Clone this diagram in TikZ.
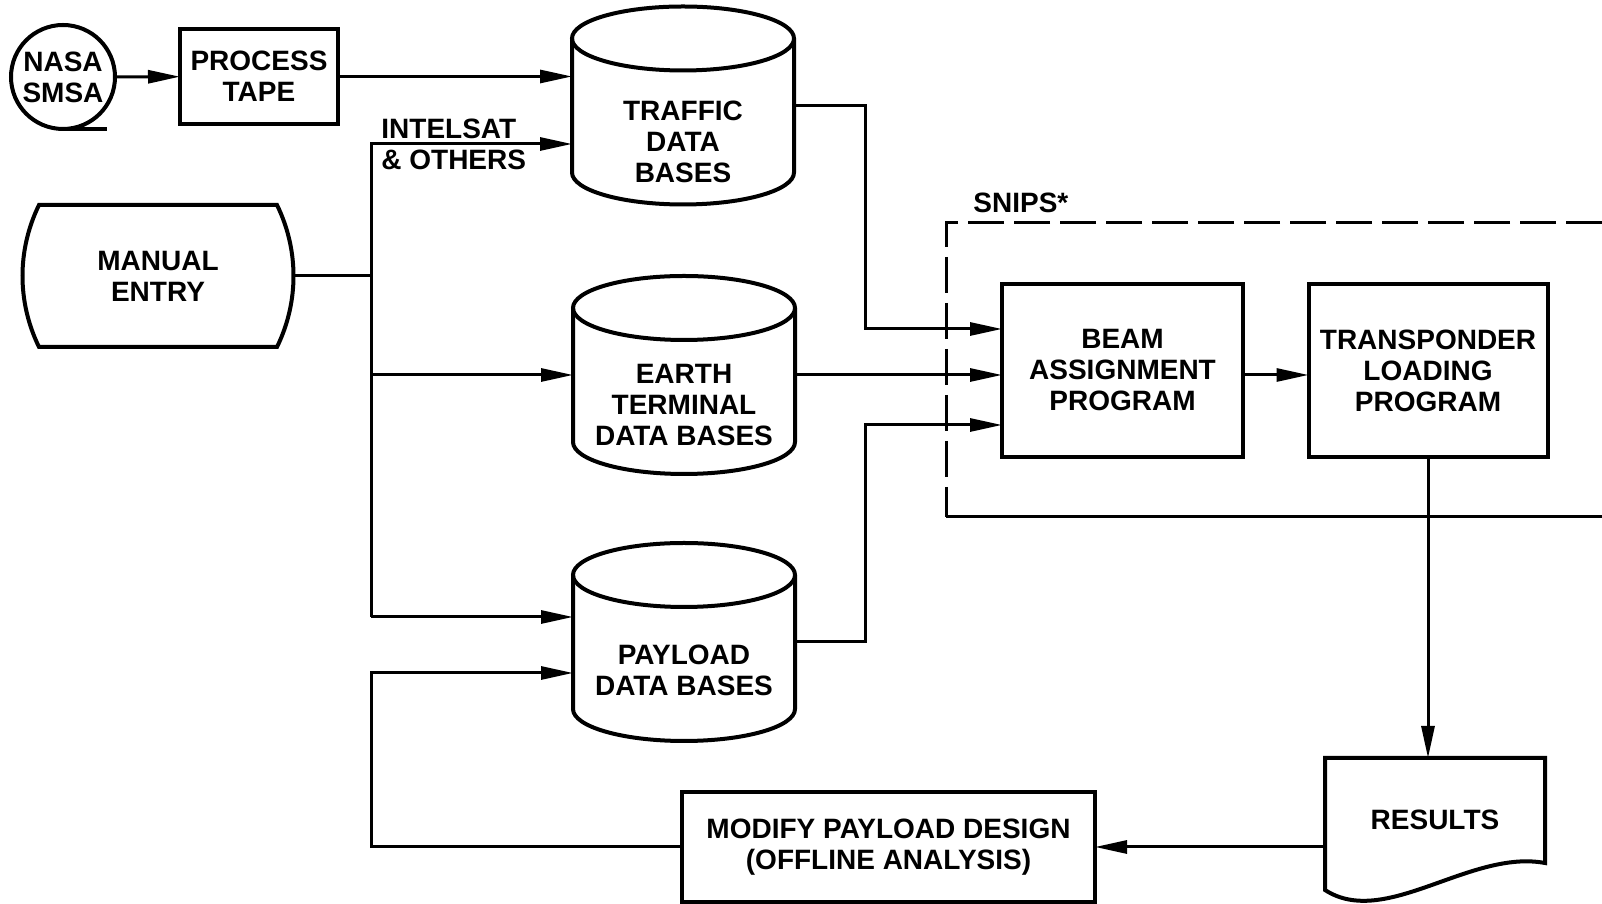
\documentclass[tikz,border=0pt]{standalone}
\usepackage{fontspec}
\setmainfont{Liberation Sans}
\usepackage{tikz}
\usetikzlibrary{arrows.meta,positioning,calc}

\begin{document}
\begin{tikzpicture}[x=0.5pt, y=0.5pt,
    every node/.style={font=\bfseries\fontsize{14}{15.5}\selectfont, align=center},
    box/.style={draw, line width=2pt, inner sep=0pt, outer sep=0pt},
    database/.style={minimum width=111pt, minimum height=99pt, inner sep=0pt, outer sep=0pt},
    line/.style={line width=1.5pt},
    flow/.style={line width=1.5pt, -{Triangle[length=16pt, width=6.5pt]}},
    frame/.style={line width=1.5pt, dash pattern=on 18pt off 5pt}]
    \useasboundingbox (0,0) rectangle (1602,904);

    % 数据来源
    \node[box, circle, minimum size=52pt] (nasa) at (63,827) {NASA\\SMSA};
    \draw[box] (nasa.south) -- ++(44,0);
    \node[box, minimum width=79pt, minimum height=47.5pt] (tape) at (259,827.5) {PROCESS\\TAPE};
    \node[minimum width=119pt, minimum height=71pt, outer sep=0pt] (manual) at (158,628) {MANUAL\\ENTRY};
    \draw[box] (manual.north west) .. controls +(-22,-45) and +(-22,45) .. (manual.south west)
        -- (manual.south east) .. controls +(22,45) and +(22,-45) .. (manual.north east) -- cycle;

    % 数据库
    \node[database] (traffic) at (683,798.5) {};
    \node[database] (earth) at (684,529) {};
    \node[database] (payload) at (684,262) {};
    \foreach \db in {traffic,earth,payload} {
        \draw[box] ([yshift=-16pt]\db.north) ellipse [x radius=111, y radius=32];
        \draw[box] ([yshift=-16pt]\db.north west) -- ([yshift=16pt]\db.south west)
            arc[start angle=180, end angle=360, x radius=111, y radius=32]
            -- ([yshift=-16pt]\db.north east);
    }
    \node (trafficText) at ([yshift=-18pt]traffic.center) {TRAFFIC\\DATA\\BASES};
    \node (earthText) at ([yshift=-15pt]earth.center) {EARTH\\TERMINAL\\DATA BASES};
    \node (payloadText) at ([yshift=-14pt]payload.center) {PAYLOAD\\DATA BASES};

    % SNIPS 程序
    \node[box, minimum width=120.5pt, minimum height=86.5pt] (beam) at (1122.5,533.5) {BEAM\\ASSIGNMENT\\PROGRAM};
    \node[box, minimum width=119.5pt, minimum height=86.5pt] (transp) at (1428,533.5) {TRANSPONDER\\LOADING\\PROGRAM};
    \draw[frame] (1602,681) -- (946,681) -- (946,387);
    \draw[line] (946,387) -- (1602,387);
    \node[anchor=base west, inner sep=0pt] (snips) at (973,691) {SNIPS*};

    % 结果与修改
    \node[minimum width=110pt, minimum height=62pt, outer sep=0pt] (results) at (1435,84) {RESULTS};
    \draw[box] (results.north west) -- ([yshift=-4pt]results.south west)
        .. controls +(60,-39) and +(-75,14) .. ([yshift=9.5pt]results.south east)
        -- (results.north east) -- cycle;
    \node[box, minimum width=206.5pt, minimum height=55pt] (modify) at (888.5,57) {MODIFY PAYLOAD DESIGN\\(OFFLINE ANALYSIS)};

    % 连线
    \coordinate (busTop) at (371,760);
    \coordinate (busBot) at (371,287);
    \coordinate (loop) at (371,231);
    \coordinate (trunkT) at (865,575);
    \coordinate (trunkP) at (865,479);
    \node[anchor=west, align=left, inner sep=0pt] (intelsat) at (381,760) {INTELSAT\\\& OTHERS};

    \draw[flow] (nasa) -- (tape);
    \draw[flow] (tape.east) -- (tape.east -| traffic.west);
    \draw[line] ([xshift=8pt]manual.east) -- (manual.east -| busTop);
    \draw[flow] (busBot) -- (busTop) -- (busTop -| traffic.west);
    \draw[flow] (busTop |- earth.west) -- (earth.west);
    \draw[flow] (busBot) -- (busBot -| payload.west);
    \draw[flow] (modify.west) -| (loop) -- (loop -| payload.west);
    \draw[flow] (traffic.east) -| (trunkT) -- (trunkT -| beam.west);
    \draw[flow] (earth.east) -- (earth.east -| beam.west);
    \draw[flow] (payload.east) -| (trunkP) -- (trunkP -| beam.west);
    \draw[flow] (beam.east |- earth.east) -- (transp.west |- earth.east);
    \draw[flow] (transp.south) -- (transp.south |- results.north);
    \draw[flow] (results.west |- modify.east) -- (modify.east);
\end{tikzpicture}
\end{document}
